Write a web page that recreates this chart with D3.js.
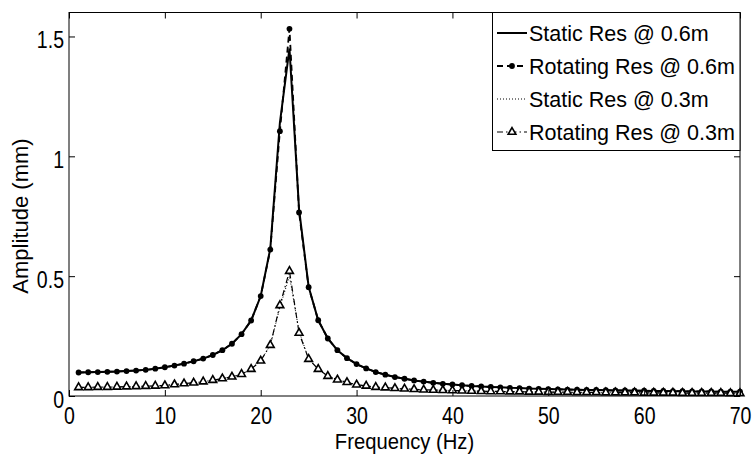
<!DOCTYPE html>
<html>
<head>
<meta charset="utf-8">
<script src="https://cdn.jsdelivr.net/npm/d3@7"></script>
<style>
  body { margin: 0; background: #fff; }
  svg { display: block; font-family: "Liberation Sans", Arial, sans-serif; }
</style>
</head>
<body>
<div id="chart"></div>
<script>
let width = 753,
  height = 455;

// frequencies (Hz), one marker per Hz
const freq = [1, 2, 3, 4, 5, 6, 7, 8, 9, 10, 11, 12, 13, 14, 15, 16, 17, 18, 19, 20,
  21, 22, 23, 24, 25, 26, 27, 28, 29, 30, 31, 32, 33, 34, 35, 36, 37, 38, 39, 40,
  41, 42, 43, 44, 45, 46, 47, 48, 49, 50, 51, 52, 53, 54, 55, 56, 57, 58, 59, 60,
  61, 62, 63, 64, 65, 66, 67, 68, 69, 70];

const static06 = [0.098, 0.099, 0.100, 0.101, 0.102, 0.104, 0.106, 0.109, 0.114, 0.120,
  0.127, 0.135, 0.145, 0.156, 0.171, 0.191, 0.218, 0.258, 0.315, 0.417,
  0.615, 1.140, 1.450, 0.780, 0.456, 0.316, 0.240, 0.191, 0.158, 0.133,
  0.115, 0.100, 0.089, 0.079, 0.072, 0.065, 0.060, 0.055, 0.051, 0.048,
  0.045, 0.042, 0.040, 0.038, 0.036, 0.034, 0.033, 0.031, 0.030, 0.029,
  0.028, 0.027, 0.026, 0.025, 0.025, 0.024, 0.023, 0.023, 0.022, 0.022,
  0.021, 0.021, 0.020, 0.020, 0.019, 0.019, 0.019, 0.018, 0.018, 0.018];

const rotating06 = [0.098, 0.099, 0.100, 0.101, 0.102, 0.104, 0.106, 0.109, 0.114, 0.120,
  0.127, 0.135, 0.145, 0.156, 0.171, 0.191, 0.218, 0.258, 0.315, 0.417,
  0.611, 1.105, 1.532, 0.766, 0.454, 0.316, 0.240, 0.191, 0.158, 0.133,
  0.115, 0.100, 0.089, 0.079, 0.072, 0.065, 0.060, 0.055, 0.051, 0.048,
  0.045, 0.042, 0.040, 0.038, 0.036, 0.034, 0.033, 0.031, 0.030, 0.029,
  0.028, 0.027, 0.026, 0.025, 0.025, 0.024, 0.023, 0.023, 0.022, 0.022,
  0.021, 0.021, 0.020, 0.020, 0.019, 0.019, 0.019, 0.018, 0.018, 0.018];

const static03 = [0.036, 0.036, 0.037, 0.037, 0.038, 0.039, 0.040, 0.041, 0.042, 0.044,
  0.048, 0.052, 0.055, 0.060, 0.066, 0.073, 0.080, 0.091, 0.112, 0.147,
  0.212, 0.370, 0.500, 0.270, 0.154, 0.112, 0.083, 0.068, 0.057, 0.047,
  0.042, 0.037, 0.035, 0.032, 0.030, 0.028, 0.026, 0.025, 0.024, 0.023,
  0.022, 0.021, 0.020, 0.019, 0.019, 0.018, 0.018, 0.017, 0.017, 0.016,
  0.016, 0.016, 0.015, 0.015, 0.015, 0.014, 0.014, 0.014, 0.014, 0.013,
  0.013, 0.013, 0.013, 0.012, 0.012, 0.012, 0.012, 0.012, 0.011, 0.011];

const rotating03 = [0.036, 0.036, 0.037, 0.037, 0.038, 0.039, 0.040, 0.041, 0.042, 0.044,
  0.048, 0.052, 0.055, 0.060, 0.066, 0.073, 0.080, 0.091, 0.112, 0.147,
  0.212, 0.378, 0.521, 0.263, 0.154, 0.112, 0.083, 0.068, 0.057, 0.047,
  0.042, 0.037, 0.035, 0.032, 0.030, 0.028, 0.026, 0.025, 0.024, 0.023,
  0.022, 0.021, 0.020, 0.019, 0.019, 0.018, 0.018, 0.017, 0.017, 0.016,
  0.016, 0.016, 0.015, 0.015, 0.015, 0.014, 0.014, 0.014, 0.014, 0.013,
  0.013, 0.013, 0.013, 0.012, 0.012, 0.012, 0.012, 0.012, 0.011, 0.011];

const seriesNames = ["Static Res @ 0.6m", "Rotating Res @ 0.6m", "Static Res @ 0.3m", "Rotating Res @ 0.3m"];

const xTicks = [0, 10, 20, 30, 40, 50, 60, 70];
const yTicks = [0, 0.5, 1, 1.5];
const yTickLabels = ["0", "0.5", "1", "1.5"];

let svg = d3.select("#chart")
  .append("svg")
  .attr("width", width)
  .attr("height", height);

let x = d3.scaleLinear()
  .domain([0, 70])
  .range([69, 740]);

let y = d3.scaleLinear()
  .domain([0, 1.6])
  .range([396, 12.5]);

// series: name + values + style
let series = [
  { name: seriesNames[0], values: static06, dash: null, width: 2, marker: null },
  { name: seriesNames[1], values: rotating06, dash: "6,4", width: 1.8, marker: "dot" },
  { name: seriesNames[2], values: static03, dash: "1,2", width: 1, marker: null },
  { name: seriesNames[3], values: rotating03, dash: "6,3,1.5,3", width: 1.2, marker: "tri" }
];

let line = d3.line()
  .x((d, i) => x(freq[i]))
  .y(d => y(d));

let plot = svg.append("g");

// axes with inward ticks on all four sides
let axBottom = svg.append("g")
  .attr("transform", `translate(0,${y(0)})`)
  .call(d3.axisBottom(x).tickValues(xTicks).tickSizeInner(-6).tickSizeOuter(0).tickFormat(d3.format("d")));
axBottom.selectAll("text")
  .attr("y", 28)
  .attr("dy", 0)
  .attr("transform", "scale(0.85,1)");

svg.append("g")
  .attr("transform", `translate(0,${y(1.6)})`)
  .call(d3.axisTop(x).tickValues(xTicks).tickSizeInner(-6).tickSizeOuter(0).tickFormat(""));

let axLeft = svg.append("g")
  .attr("transform", `translate(${x(0)},0)`)
  .call(d3.axisLeft(y).tickValues(yTicks).tickSizeInner(-6).tickSizeOuter(0)
    .tickFormat((d, i) => yTickLabels[i]));
axLeft.selectAll("text")
  .attr("x", -5 / 0.85)
  .attr("dy", "0.5em")
  .attr("transform", "scale(0.85,1)");

svg.append("g")
  .attr("transform", `translate(${x(70)},0)`)
  .call(d3.axisRight(y).tickValues(yTicks).tickSizeInner(-6).tickSizeOuter(0).tickFormat(""));

svg.selectAll(".domain").remove();
svg.selectAll(".tick line").attr("stroke", "#000");
svg.selectAll(".tick text")
  .attr("fill", "#000")
  .style("font-size", "23px")
  .style("font-family", "'Liberation Sans', Arial, sans-serif");

// box
svg.append("rect")
  .attr("x", x(0))
  .attr("y", y(1.6))
  .attr("width", x(70) - x(0))
  .attr("height", y(0) - y(1.6))
  .attr("fill", "none")
  .attr("stroke", "#000")
  .attr("stroke-width", 1);

// lines
for (let s of series) {
  plot.append("path")
    .datum(s.values)
    .attr("d", line)
    .attr("fill", "none")
    .attr("stroke", "#000")
    .attr("stroke-width", s.width)
    .attr("stroke-dasharray", s.dash);

  if (s.marker === "dot") {
    plot.selectAll(null)
      .data(s.values)
      .join("circle")
      .attr("cx", (d, i) => x(freq[i]))
      .attr("cy", d => y(d))
      .attr("r", 2.9)
      .attr("fill", "#000");
  } else if (s.marker === "tri") {
    plot.selectAll(null)
      .data(s.values)
      .join("path")
      .attr("d", d3.symbol(d3.symbolTriangle).size(26))
      .attr("transform", (d, i) => `translate(${x(freq[i])},${y(d)})`)
      .attr("fill", "#fff")
      .attr("stroke", "#000")
      .attr("stroke-width", 1.6);
  }
}

// axis labels
svg.append("text")
  .attr("transform", `translate(404.5,449) scale(0.92,1)`)
  .attr("text-anchor", "middle")
  .style("font-size", "22px")
  .text("Frequency (Hz)");

svg.append("text")
  .attr("transform", "translate(28,216) rotate(-90)")
  .attr("text-anchor", "middle")
  .style("font-size", "22px")
  .text("Amplitude (mm)");

// legend
let legend = svg.append("g");
legend.append("rect")
  .attr("x", 492.5)
  .attr("y", 12.5)
  .attr("width", 740 - 492.5)
  .attr("height", 138)
  .attr("fill", "#fff")
  .attr("stroke", "#000")
  .attr("stroke-width", 1);

series.forEach((s, i) => {
  let base = 40.5 + i * 33;
  let ly = base - 7.5;
  legend.append("line")
    .attr("x1", 497).attr("x2", 527)
    .attr("y1", ly).attr("y2", ly)
    .attr("stroke", "#000")
    .attr("stroke-width", s.width)
    .attr("stroke-dasharray", s.dash);
  if (s.marker === "dot") {
    legend.append("circle").attr("cx", 512).attr("cy", ly).attr("r", 2.9).attr("fill", "#000");
  } else if (s.marker === "tri") {
    legend.append("path")
      .attr("d", d3.symbol(d3.symbolTriangle).size(26))
      .attr("transform", `translate(512,${ly})`)
      .attr("fill", "#fff").attr("stroke", "#000").attr("stroke-width", 1.6);
  }
  legend.append("text")
    .attr("x", 529)
    .attr("y", base)
    .style("font-size", "21.5px")
    .text(s.name);
});
</script>
</body>
</html>
